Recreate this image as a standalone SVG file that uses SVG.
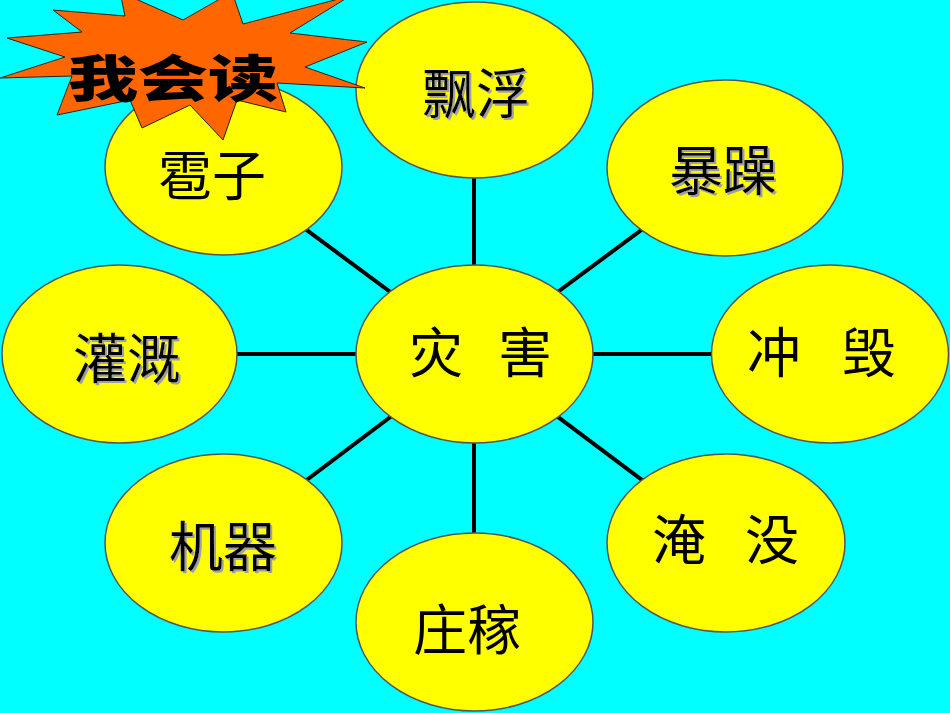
<svg xmlns="http://www.w3.org/2000/svg" width="950" height="713" viewBox="0 0 950 713">
<style>
.node{fill:#FFFF00;stroke:#555;stroke-width:1.5}
.lbl{font-family:"Noto Sans CJK SC","Noto Sans CJK TC",sans-serif;font-size:54px;fill:#000;text-anchor:middle}
.sh{filter:url(#shadow)}
.conn line{stroke:#000;stroke-width:4}
</style>
<defs>
<filter id="shadow" x="-10%" y="-10%" width="130%" height="130%">
<feDropShadow dx="2" dy="2" stdDeviation="0" flood-color="#A0A0A0" flood-opacity="1"/>
</filter>
</defs>
<rect x="0" y="0" width="950" height="713" fill="#00FFFF"/>
<g id="connectors" class="conn">
<line x1="474" y1="354" x2="474" y2="90"/>
<line x1="474" y1="354" x2="725" y2="168"/>
<line x1="474" y1="354" x2="830" y2="354"/>
<line x1="474" y1="354" x2="726" y2="543"/>
<line x1="474" y1="354" x2="474" y2="622"/>
<line x1="474" y1="354" x2="223" y2="543"/>
<line x1="474" y1="354" x2="120" y2="354"/>
<line x1="474" y1="354" x2="223" y2="168"/>
</g>
<g id="center">
<ellipse class="node" cx="474.5" cy="354" rx="118.5" ry="89"/>
<text class="lbl" y="373"><tspan x="442">灾</tspan> <tspan x="525">害</tspan></text>
</g>
<g id="piaofu">
<ellipse class="node" cx="474.5" cy="90" rx="118.5" ry="88"/>
<text class="lbl sh" x="476" y="114">飘浮</text>
</g>
<g id="baozao">
<ellipse class="node" cx="725" cy="168" rx="118" ry="88"/>
<text class="lbl sh" x="723" y="191">暴躁</text>
</g>
<g id="chonghui">
<ellipse class="node" cx="830" cy="354" rx="118.5" ry="89"/>
<text class="lbl" y="373"><tspan x="780">冲</tspan> <tspan x="869">毁</tspan></text>
</g>
<g id="yanmei">
<ellipse class="node" cx="726" cy="543" rx="119" ry="89"/>
<text class="lbl" y="560"><tspan x="685">淹</tspan> <tspan x="772">没</tspan></text>
</g>
<g id="zhuangjia">
<ellipse class="node" cx="474.5" cy="622" rx="118.5" ry="89"/>
<text class="lbl" x="467" y="650">庄稼</text>
</g>
<g id="jiqi">
<ellipse class="node" cx="223.5" cy="543" rx="118.5" ry="89"/>
<text class="lbl sh" x="223" y="567">机器</text>
</g>
<g id="guangai">
<ellipse class="node" cx="119.5" cy="354" rx="117.5" ry="89"/>
<text class="lbl sh" x="127" y="379">灌溉</text>
</g>
<g id="baozi">
<ellipse class="node" cx="223.5" cy="167" rx="118.5" ry="88"/>
<text class="lbl" x="212" y="196">雹子</text>
</g>
<g id="title">
<polygon fill="#FF6600" stroke="#222" stroke-width="1" points="0,78 65,57 7,38 82,32 53,10 125,16 120,-8 183,20 232,-8 243,24 350,-4 290,33 367,42 305,67 365,88 277,83 286,112 237,100 223,140 190,105 142,128 130,100 57,115 72,76"/>
<text x="68" y="97" textLength="210" lengthAdjust="spacingAndGlyphs" style="font-family:'Noto Sans CJK SC',sans-serif;font-size:50px;font-weight:900;fill:#000">我会读</text>
</g>
</svg>
